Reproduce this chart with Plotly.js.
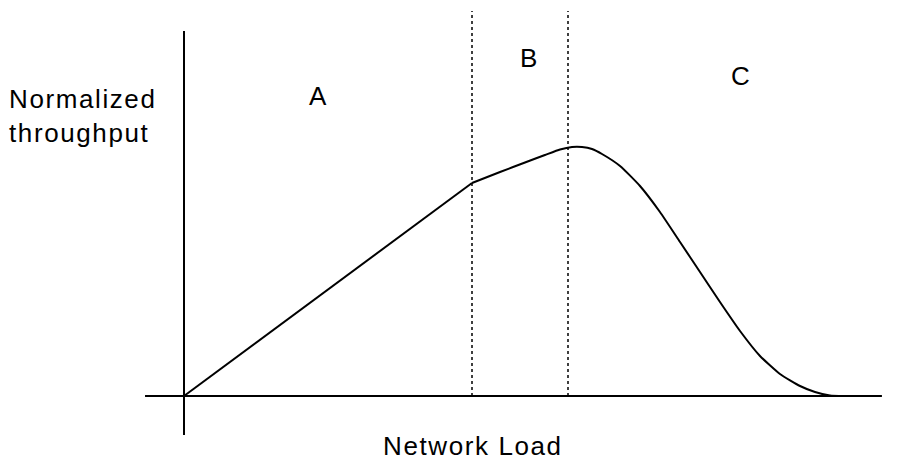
<!DOCTYPE html>
<html>
<head>
<meta charset="utf-8">
<script src="https://cdn.plot.ly/plotly-3.0.1.min.js"></script>
<style>
html,body{margin:0;padding:0;background:#fff;}
#chart{width:904px;height:463px;}
text.annotation-text{letter-spacing:1.6px;}
</style>
</head>
<body>
<div id="chart"></div>
<script>
// Region A: linear rise
const loadA = [0, 3];
const thrA = [0, 0.852];
// Regions B and C: knee, peak and collapse
const loadBC = [3.0, 3.292, 3.552, 3.760, 3.917, 4.042, 4.146, 4.25, 4.354, 4.542, 4.75, 4.958, 5.167, 5.375, 5.583, 5.792, 6.0, 6.208, 6.417, 6.573, 6.729, 6.885, 7.01];
const thrBC = [0.852, 0.896, 0.934, 0.964, 0.986, 0.996, 0.996, 0.988, 0.968, 0.92, 0.84, 0.736, 0.616, 0.496, 0.376, 0.26, 0.16, 0.088, 0.04, 0.016, 0.002, 0, 0];
const boundaries = [3, 4];
const regionLabels = ['A', 'B', 'C'];
const regionLabelX = [1.396, 3.604, 5.802];
const regionLabelY = [1.2, 1.352, 1.28];
const yLabel = 'Normalized<br>throughput';
const xLabel = 'Network Load';

const font = {family: 'Liberation Sans, Arial, sans-serif', size: 26, color: '#000'};

const traces = [
  {x: loadA, y: thrA, mode: 'lines', line: {color: '#000', width: 2}, hoverinfo: 'skip'},
  {x: loadBC, y: thrBC, mode: 'lines', line: {color: '#000', width: 2, shape: 'spline', smoothing: 0.5}, hoverinfo: 'skip'}
];

const shapes = [
  {type: 'line', xref: 'x', yref: 'y', x0: -0.406, x1: 7.27, y0: 0, y1: 0, line: {color: '#000', width: 2}},
  {type: 'line', xref: 'x', yref: 'y', x0: 0, x1: 0, y0: -0.156, y1: 1.46, line: {color: '#000', width: 2}}
];
boundaries.forEach(b => shapes.push({type: 'line', xref: 'x', yref: 'y', x0: b, x1: b, y0: 0, y1: 1.54, line: {color: '#000', width: 1.5, dash: 'dot'}}));

const annotations = regionLabels.map((t, i) => ({
  text: t, x: regionLabelX[i], y: regionLabelY[i], xref: 'x', yref: 'y',
  showarrow: false, font: font, xanchor: 'center', yanchor: 'middle'
}));
annotations.push({text: yLabel, x: -1.84, y: 1.12, xref: 'x', yref: 'y', showarrow: false, font: font, xanchor: 'left', yanchor: 'middle', align: 'left'});
annotations.push({text: xLabel, x: 3.01, y: -0.2, xref: 'x', yref: 'y', showarrow: false, font: font, xanchor: 'center', yanchor: 'middle'});

const layout = {
  width: 904, height: 463,
  margin: {l: 0, r: 0, t: 0, b: 0},
  paper_bgcolor: '#fff', plot_bgcolor: '#fff',
  showlegend: false,
  xaxis: {range: [-1.9167, 7.5], visible: false, fixedrange: true},
  yaxis: {range: [-0.268, 1.584], visible: false, fixedrange: true},
  shapes: shapes,
  annotations: annotations
};

Plotly.newPlot('chart', traces, layout, {staticPlot: true, displayModeBar: false});
</script>
</body>
</html>
